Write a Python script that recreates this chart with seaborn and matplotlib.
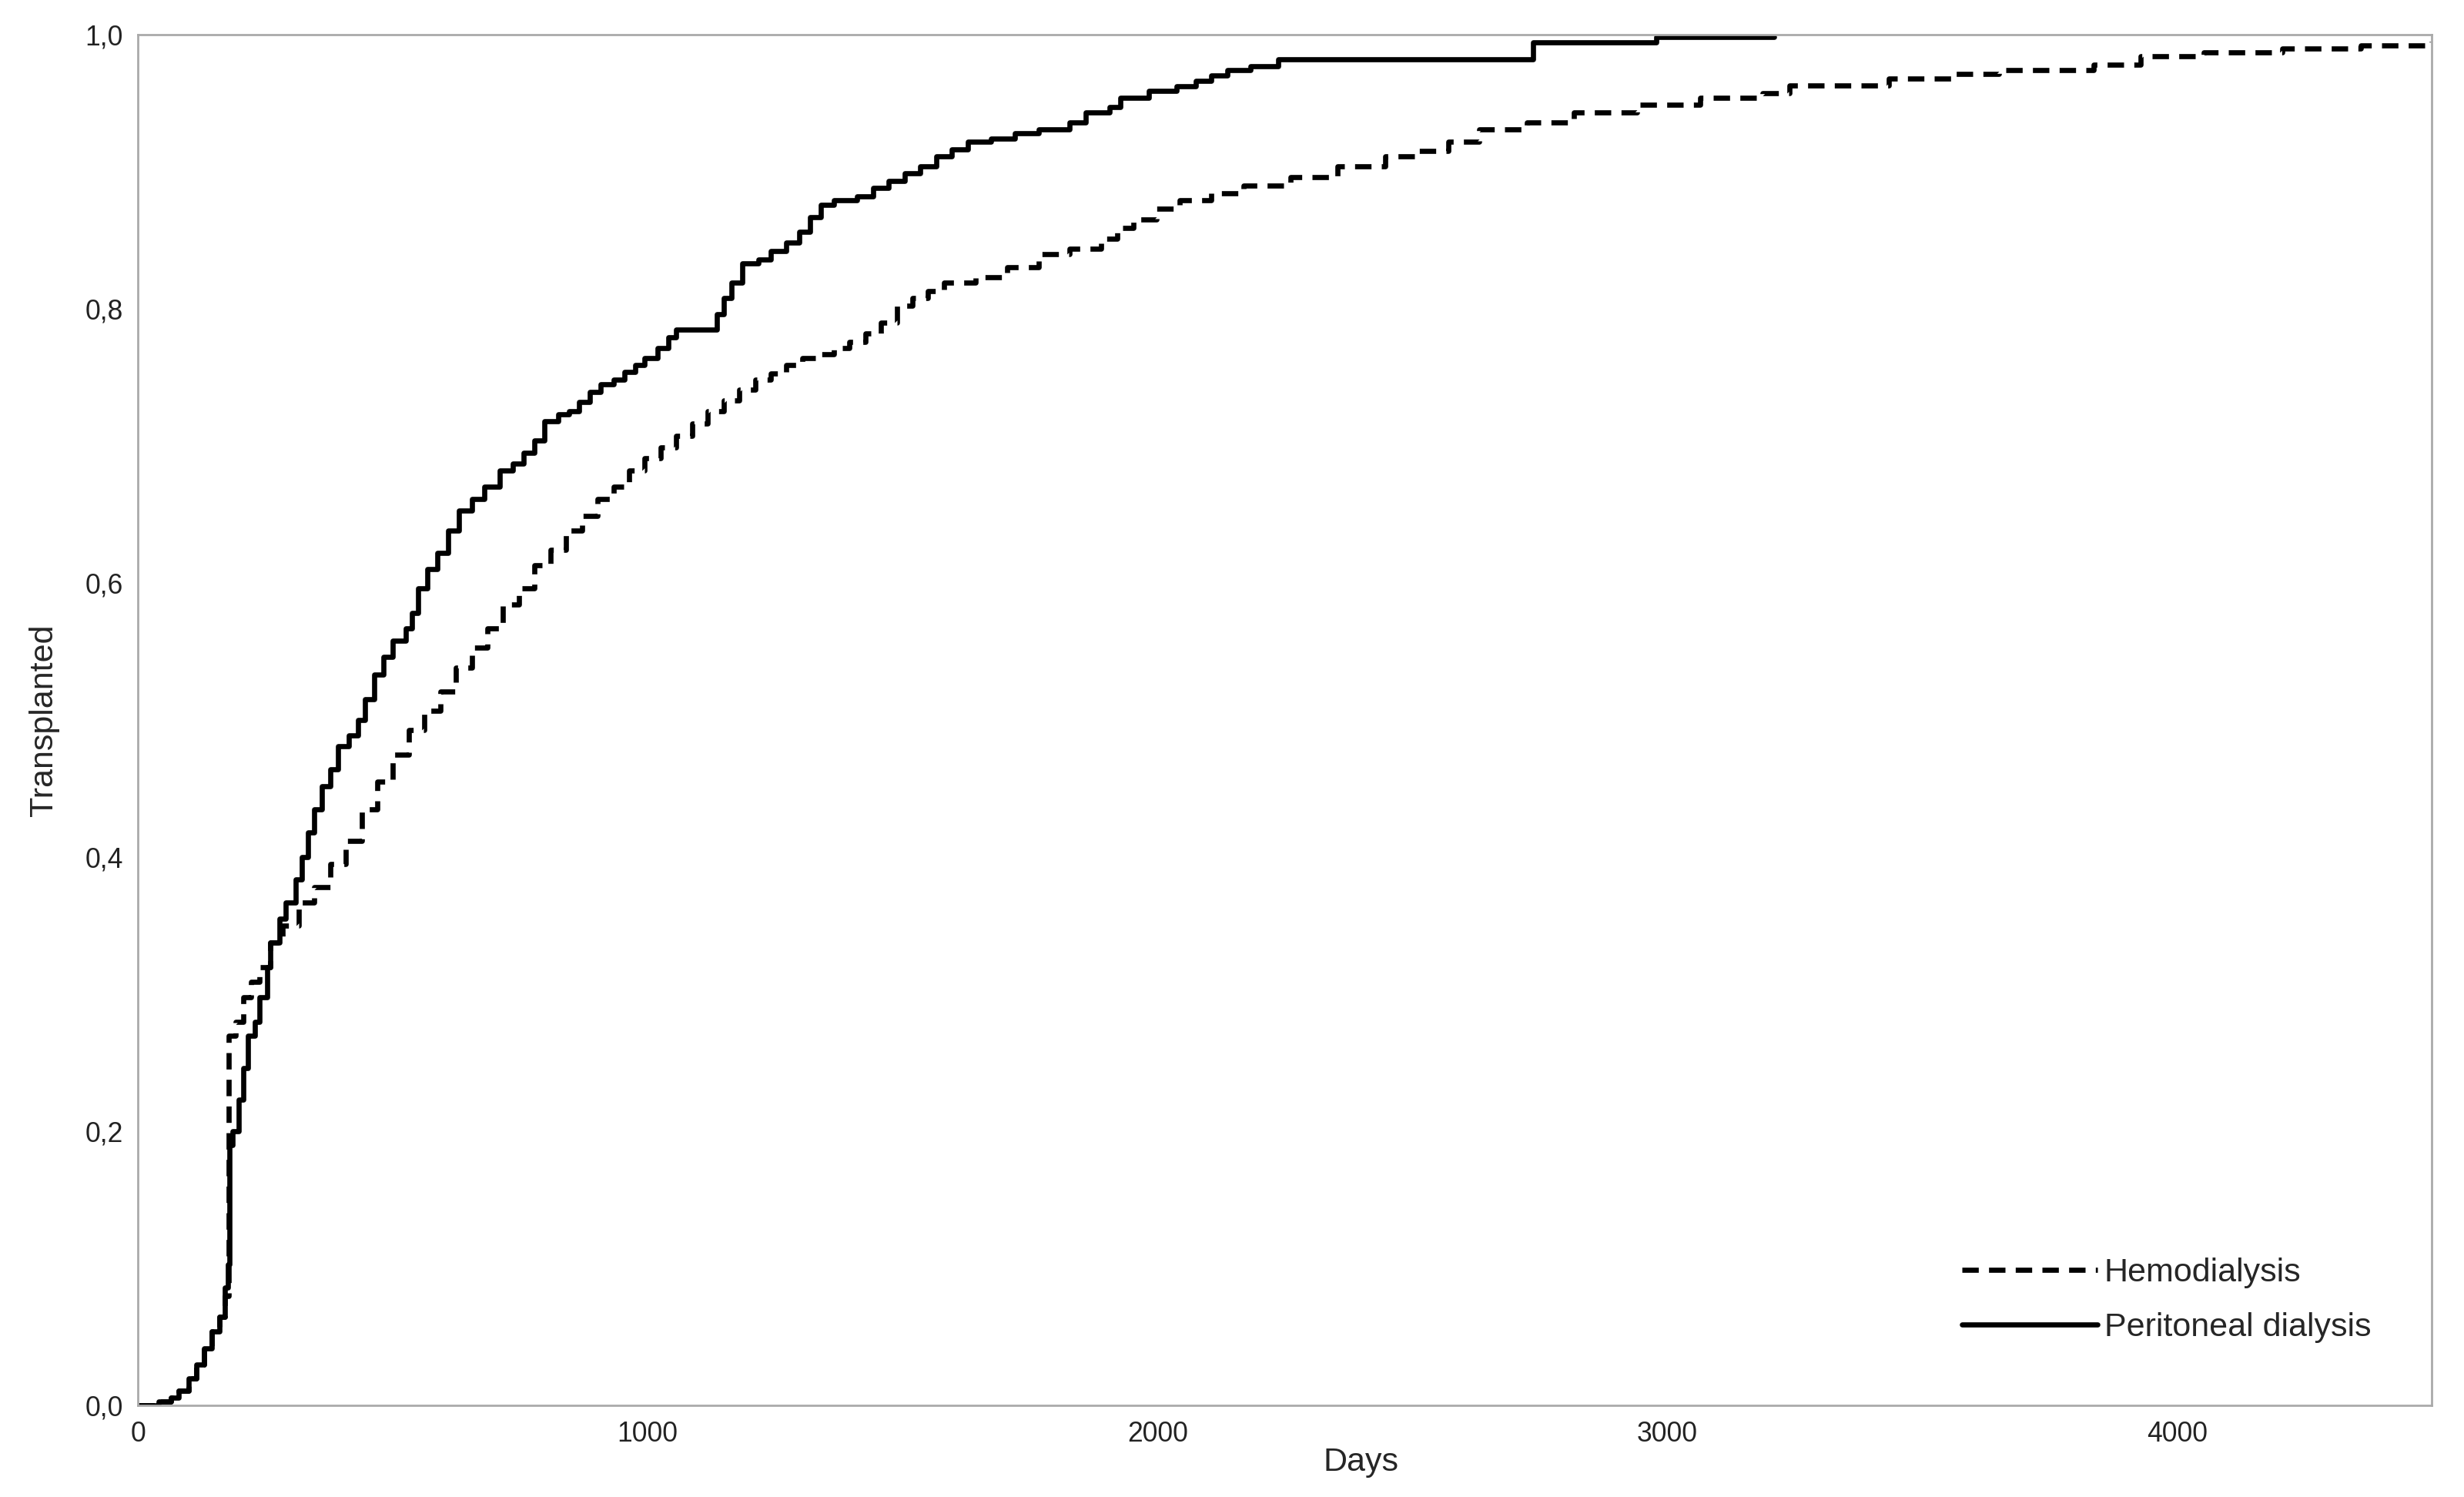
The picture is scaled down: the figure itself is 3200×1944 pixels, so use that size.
import numpy as np
import pandas as pd
import matplotlib
matplotlib.use("Agg")
import matplotlib.pyplot as plt
from matplotlib.ticker import FuncFormatter, MultipleLocator
import seaborn as sns

# cumulative proportion transplanted (step curves)
hd_days = [0, 40, 65, 80, 100, 114, 130, 145, 160, 170, 178, 191, 207, 222, 238, 259,
           284, 315, 346, 377, 408, 439, 469, 500, 531, 562, 593, 624, 655, 686, 716,
           747, 778, 809, 840, 871, 902, 933, 964, 994, 1025, 1056, 1087, 1118, 1149,
           1180, 1211, 1242, 1272, 1303, 1334, 1365, 1396, 1427, 1458, 1489, 1519, 1550,
           1581, 1643, 1705, 1767, 1828, 1890, 1921, 1952, 1998, 2044, 2106, 2168, 2261,
           2353, 2446, 2508, 2570, 2631, 2724, 2817, 2940, 3064, 3187, 3240, 3434, 3560,
           3650, 3836, 3928, 4052, 4206, 4361, 4500]
hd_vals = [0.0, 0.003, 0.006, 0.011, 0.02, 0.03, 0.042, 0.054, 0.065, 0.08, 0.27, 0.28,
           0.298, 0.309, 0.32, 0.338, 0.35, 0.367, 0.378, 0.395, 0.412, 0.435, 0.455,
           0.475, 0.493, 0.507, 0.521, 0.538, 0.553, 0.567, 0.584, 0.596, 0.613, 0.624,
           0.638, 0.649, 0.661, 0.670, 0.682, 0.691, 0.699, 0.707, 0.716, 0.725, 0.733,
           0.741, 0.748, 0.753, 0.759, 0.764, 0.767, 0.771, 0.776, 0.782, 0.790, 0.802,
           0.808, 0.813, 0.819, 0.823, 0.830, 0.840, 0.844, 0.851, 0.859, 0.865, 0.873,
           0.879, 0.884, 0.890, 0.896, 0.904, 0.911, 0.915, 0.922, 0.931, 0.936, 0.943,
           0.949, 0.954, 0.957, 0.963, 0.968, 0.971, 0.974, 0.978, 0.984, 0.987, 0.990,
           0.992, 0.995]

pd_days = [0, 40, 65, 80, 100, 114, 130, 145, 160, 170, 176, 179, 185, 198, 207, 216,
           229, 238, 253, 259, 278, 290, 309, 321, 334, 346, 361, 377, 392, 414, 432,
           445, 463, 482, 500, 525, 537, 550, 568, 587, 608, 630, 655, 679, 710, 735,
           757, 778, 797, 825, 846, 865, 886, 908, 933, 954, 976, 994, 1019, 1041, 1056,
           1136, 1149, 1164, 1186, 1217, 1241, 1272, 1297, 1319, 1340, 1365, 1411, 1442,
           1473, 1504, 1535, 1566, 1597, 1628, 1674, 1720, 1767, 1828, 1859, 1906, 1927,
           1983, 2038, 2075, 2106, 2137, 2183, 2236, 2736, 2978, 3210]
pd_vals = [0.0, 0.003, 0.006, 0.011, 0.02, 0.03, 0.042, 0.054, 0.065, 0.086, 0.103,
           0.19, 0.2, 0.223, 0.246, 0.27, 0.28, 0.298, 0.32, 0.338, 0.355, 0.367, 0.384,
           0.40, 0.418, 0.435, 0.452, 0.464, 0.481, 0.489, 0.50, 0.515, 0.533, 0.546,
           0.558, 0.567, 0.578, 0.596, 0.61, 0.622, 0.638, 0.653, 0.661, 0.670, 0.682,
           0.687, 0.695, 0.704, 0.718, 0.723, 0.725, 0.732, 0.739, 0.745, 0.748, 0.754,
           0.759, 0.764, 0.771, 0.779, 0.785, 0.796, 0.808, 0.819, 0.833, 0.836, 0.842,
           0.848, 0.856, 0.867, 0.876, 0.879, 0.882, 0.888, 0.893, 0.899, 0.904, 0.911,
           0.916, 0.922, 0.924, 0.928, 0.931, 0.936, 0.943, 0.947, 0.954, 0.959, 0.962,
           0.966, 0.970, 0.974, 0.977, 0.982, 0.994, 0.998, 0.998]

x_ticks = [0, 1000, 2000, 3000, 4000]

hd = pd.DataFrame({"Days": hd_days, "Transplanted": hd_vals})
pdl = pd.DataFrame({"Days": pd_days, "Transplanted": pd_vals})

sns.set_style("white")
plt.rcParams["font.family"] = ["Liberation Sans", "DejaVu Sans"]

fig, ax = plt.subplots(figsize=(16, 9.72), dpi=200)
fig.subplots_adjust(left=0.056, right=0.987, top=0.977, bottom=0.061)

sns.lineplot(data=hd, x="Days", y="Transplanted", ax=ax, color="black", lw=2.4,
             estimator=None, drawstyle="steps-post", label="Hemodialysis")
sns.lineplot(data=pdl, x="Days", y="Transplanted", ax=ax, color="black", lw=2.4,
             estimator=None, drawstyle="steps-post", label="Peritoneal dialysis")
ax.lines[0].set_dashes((3.2, 2.0))

ax.set_xlim(0, 4500)
ax.set_ylim(0, 1.0)
ax.set_xticks(x_ticks)
ax.yaxis.set_major_locator(MultipleLocator(0.2))
ax.yaxis.set_minor_locator(MultipleLocator(0.1))
ax.yaxis.set_major_formatter(FuncFormatter(lambda v, _: f"{v:.1f}".replace(".", ",")))
ax.tick_params(axis="both", which="both", direction="out", length=4, width=0.8,
               color="#999999", labelsize=12.8, pad=3, labelcolor="#222222")
ax.tick_params(axis="y", which="minor", length=3)

for s in ax.spines.values():
    s.set_color("#aaaaaa")
    s.set_linewidth(1.0)

ax.set_xlabel("Days", fontsize=15.5, labelpad=0)
ax.xaxis.set_label_coords(0.533, -0.03)
ax.set_ylabel("Transplanted", fontsize=15.5, labelpad=12)

leg = ax.legend(loc="center left", bbox_to_anchor=(0.795, 0.077), frameon=False,
                fontsize=15.5, handlelength=4.1, handletextpad=0.2,
                labelspacing=0.72, borderpad=0, borderaxespad=0)

fig.savefig("out.png", dpi=200)
